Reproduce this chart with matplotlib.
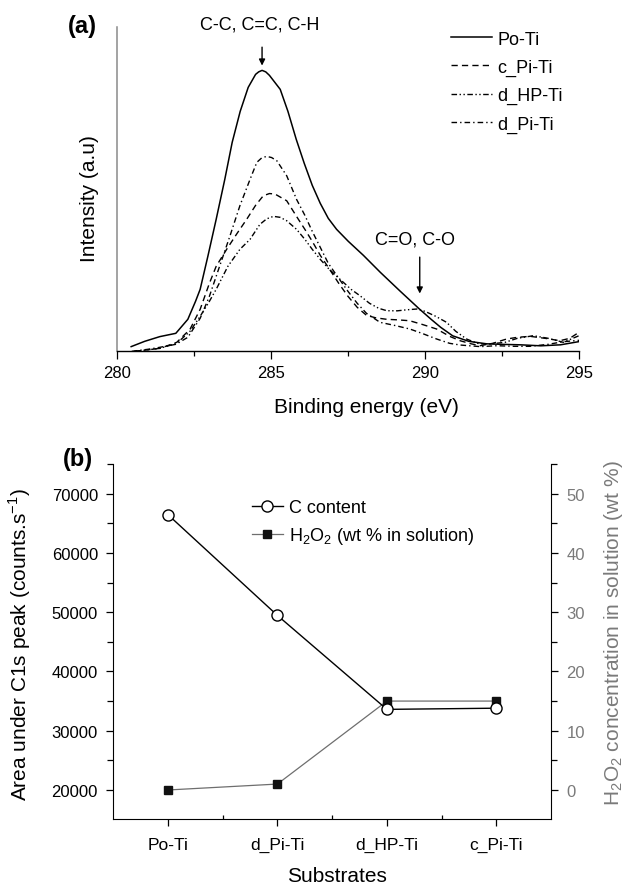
import matplotlib
matplotlib.use("Agg")
import matplotlib.pyplot as plt
from matplotlib.ticker import MultipleLocator

plt.rcParams["font.family"] = ["Liberation Sans", "DejaVu Sans"]
plt.rcParams["mathtext.fontset"] = "custom"
plt.rcParams["mathtext.rm"] = "Liberation Sans"

# (a) C1s spectra, intensity in arbitrary units
po_ti_x = [280.46, 280.9, 281.39, 281.91, 282.30, 282.55, 282.70, 282.95, 283.22, 283.5,
           283.74, 284.0, 284.26, 284.5, 284.6, 284.71, 284.83, 284.95, 285.30, 285.55,
           285.82, 286.08, 286.34, 286.6, 286.86, 287.13, 287.51, 288.0, 288.55, 289.2,
           289.83, 290.2, 290.51, 290.9, 291.42, 292.0, 292.46, 293.1, 293.76, 294.4, 295.0]
po_ti_y = [4.7, 10, 14.7, 18, 32, 50, 62, 95, 132, 172,
           209, 240, 264, 277, 279.5, 281, 279.5, 276, 262, 240,
           212, 188, 166, 148, 133, 122, 110, 96, 79, 60,
           42, 32, 24, 15.5, 10, 7.5, 7, 6.5, 5.5, 6.5, 9.7]

c_pi_x = [280.55, 281.0, 281.4, 281.94, 282.37, 282.7, 283.0, 283.22, 283.56, 283.9,
          284.21, 284.5, 284.75, 284.95, 285.13, 285.51, 285.89, 286.1, 286.34, 286.6,
          286.86, 287.2, 287.5, 287.8, 288.1, 288.4, 288.76, 289.1, 289.5, 289.9,
          290.38, 290.8, 291.14, 291.5, 291.79, 292.2, 292.65, 293.0, 293.41, 293.9,
          294.38, 294.7, 295.0]
c_pi_y = [0, 1.5, 3, 9, 22, 42, 68, 85, 102, 118,
          132, 146, 155.6, 157.8, 157.3, 150.6, 132, 122, 110, 96,
          84, 68, 55, 44, 36, 33.5, 32, 31.5, 30.6, 27,
          22.3, 15, 10.6, 7.5, 5.6, 8, 12.3, 14, 15, 13,
          10.6, 13, 19]

d_hp_x = [280.6, 281.0, 281.4, 281.94, 282.37, 282.7, 283.0, 283.22, 283.6, 283.99,
          284.32, 284.64, 284.86, 285.08, 285.3, 285.51, 285.83, 286.1, 286.34, 286.6,
          286.86, 287.1, 287.35, 287.6, 287.89, 288.2, 288.5, 288.76, 289.1, 289.4,
          289.73, 290.0, 290.35, 290.7, 291.0, 291.35, 291.7, 292.0, 292.6, 293.0,
          293.52, 294.0, 294.49, 295.0]
d_hp_y = [0, 1.5, 3, 8, 20, 35, 50, 62, 85, 102,
          112, 127, 132.5, 135, 134, 130.6, 122, 112, 102, 92,
          83, 76, 69, 62, 55.6, 48, 43, 40.6, 40.5, 41.5,
          42.3, 40, 35, 29, 20, 12.3, 8, 7, 9, 13,
          15.6, 13, 9, 15.6]

d_pi_x = [280.48, 281.0, 281.39, 281.91, 282.3, 282.7, 283.0, 283.22, 283.67, 283.99,
          284.32, 284.54, 284.7, 284.86, 285.02, 285.19, 285.51, 285.83, 286.1, 286.34,
          286.6, 286.86, 287.2, 287.5, 287.8, 288.1, 288.54, 289.0, 289.51, 289.9,
          290.38, 290.8, 291.14, 291.8, 292.33, 292.9, 293.41, 294.0, 294.49, 295.0]
d_pi_y = [0, 2, 4, 7, 14, 33, 55, 75, 115.6, 145.6,
          172, 189, 193.5, 195, 193.8, 190.6, 175.6, 152, 136, 120,
          104, 88, 73, 60, 48, 38, 29, 26, 22.3, 18,
          12.3, 8, 6.3, 4.7, 5.6, 5, 5, 7, 9.6, 11]

# (b) C content and H2O2 concentration
substrates = ["Po-Ti", "d_Pi-Ti", "d_HP-Ti", "c_Pi-Ti"]
c_content = [66450, 49450, 33600, 33800]
h2o2_wt = [0, 1, 15, 15]

fig = plt.figure(figsize=(6.27, 8.87), dpi=100)

# ---------- panel (a) ----------
ax = fig.add_axes([0.1866, 0.6028, 0.7368, 0.3652])
ax.plot(po_ti_x, po_ti_y, color="black", lw=1.1, ls="-", label="Po-Ti")
ax.plot(c_pi_x, c_pi_y, color="black", lw=1.0, ls=(0, (4.5, 3)), label="c_Pi-Ti")
ax.plot(d_hp_x, d_hp_y, color="black", lw=1.0, ls=(0, (4, 1.8, 1, 1.8, 1, 1.8)), label="d_HP-Ti")
ax.plot(d_pi_x, d_pi_y, color="black", lw=1.0, ls=(0, (4, 2.2, 1, 2.2)), label="d_Pi-Ti")

ax.set_xlim(280, 295)
ax.set_ylim(0, 324)
ax.set_yticks([])
ax.xaxis.set_major_locator(MultipleLocator(5))
ax.xaxis.set_minor_locator(MultipleLocator(2.5))
ax.tick_params(axis="x", which="major", direction="out", length=6, width=0.9, labelsize=12, pad=4)
ax.tick_params(axis="x", which="minor", direction="out", length=3.5, width=0.9)
for s in ("top", "right"):
    ax.spines[s].set_visible(False)
ax.spines["left"].set_color("#8a8a8a")
ax.spines["left"].set_linewidth(1.1)
ax.spines["bottom"].set_linewidth(1.0)

ax.set_xlabel("Binding energy (eV)", fontsize=15, va="center")
ax.xaxis.set_label_coords(0.541, -0.169)
ax.set_ylabel("Intensity (a.u)", fontsize=15, va="center")
ax.yaxis.set_label_coords(-0.059, 0.476)

ax.text(284.64, 327, "C-C, C=C, C-H", fontsize=13, ha="center", va="center", clip_on=False)
ax.annotate("", xy=(284.71, 283), xytext=(284.71, 307),
            arrowprops=dict(arrowstyle="-|>", color="black", lw=1.0, mutation_scale=9))
ax.text(289.66, 112, "C=O, C-O", fontsize=13, ha="center", va="center")
ax.annotate("", xy=(289.83, 55), xytext=(289.83, 97),
            arrowprops=dict(arrowstyle="-|>", color="black", lw=1.0, mutation_scale=9))

ax.legend(loc="upper left", bbox_to_anchor=(0.723, 0.99), frameon=False, fontsize=13,
          handlelength=2.26, handletextpad=0.3, labelspacing=0.62, borderpad=0,
          borderaxespad=0)

fig.text(0.131, 0.9696, "(a)", fontsize=17, fontweight="bold", ha="center", va="center")

# ---------- panel (b) ----------
bx = fig.add_axes([0.1805, 0.0755, 0.6985, 0.4003])
br = bx.twinx()

xpos = list(range(len(substrates)))
h1, = bx.plot(xpos, c_content, color="black", lw=1.0, marker="o", ms=8,
              mfc="white", mec="black", mew=1.0, label="C content")
h2, = br.plot(xpos, h2o2_wt, color="#6e6e6e", lw=0.9, marker="s", ms=5.5,
              mfc="#111111", mec="#111111", label="H$_2$O$_2$ (wt % in solution)")
bx.set_zorder(br.get_zorder() + 1)
bx.patch.set_visible(False)

bx.set_xlim(-0.5, 3.5)
bx.set_ylim(15100, 75000)
br.set_ylim(-4.9, 55)
bx.set_xticks(xpos)
bx.set_xticklabels(substrates)
bx.set_xticks([0.5, 1.5, 2.5], minor=True)
bx.yaxis.set_major_locator(MultipleLocator(10000))
bx.yaxis.set_minor_locator(MultipleLocator(5000))
br.yaxis.set_major_locator(MultipleLocator(10))
br.yaxis.set_minor_locator(MultipleLocator(5))

bx.tick_params(axis="x", which="major", direction="out", length=5, width=0.9, labelsize=12.5, pad=8)
bx.tick_params(axis="x", which="minor", direction="in", length=3, width=0.9)
bx.tick_params(axis="y", which="major", direction="out", length=5, width=0.9, labelsize=12, pad=6)
bx.tick_params(axis="y", which="minor", direction="out", length=4, width=0.9)
br.tick_params(axis="y", which="major", direction="out", length=5, width=0.9, labelsize=12,
               labelcolor="#7a7a7a", pad=6)
br.tick_params(axis="y", which="minor", direction="out", length=4, width=0.9)

for a in (bx, br):
    a.spines["top"].set_visible(False)
bx.spines["right"].set_visible(False)
br.spines["left"].set_visible(False)
br.spines["bottom"].set_visible(False)

bx.set_xlabel("Substrates", fontsize=15, va="center")
bx.xaxis.set_label_coords(0.511, -0.158)
bx.set_ylabel("Area under C1s peak (counts.s$^{-1}$)", fontsize=15, va="center")
bx.yaxis.set_label_coords(-0.213, 0.493)
br.set_ylabel("H$_2$O$_2$ concentration in solution (wt %)", fontsize=15, color="#7a7a7a",
              va="center", rotation=90)
br.yaxis.set_label_coords(1.143, 0.527)

bx.legend(handles=[h1, h2], loc="upper left", bbox_to_anchor=(0.317, 0.9), frameon=False,
          fontsize=13, handlelength=1.7, handletextpad=0.35, labelspacing=0.5, borderpad=0,
          borderaxespad=0, numpoints=1)

fig.text(0.1236, 0.4825, "(b)", fontsize=17, fontweight="bold", ha="center", va="center")

fig.savefig("out.png", dpi=100)
